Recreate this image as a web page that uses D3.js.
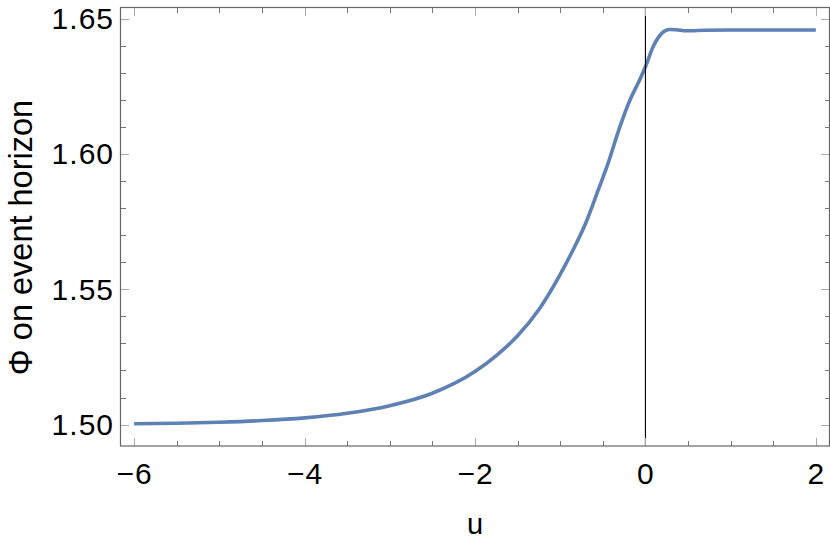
<!DOCTYPE html>
<html>
<head>
<meta charset="utf-8">
<script src="https://cdn.jsdelivr.net/npm/d3@7"></script>
<style>
html,body{margin:0;padding:0;background:#fff;}
svg{display:block;}
text{font-family:"Liberation Sans",Arial,sans-serif;fill:#000;}
</style>
</head>
<body>
<svg id="chart" width="830" height="542"></svg>
<script>
// ---- data ----
const uValues = [-6, -5.5, -5, -4.5, -4, -3.5, -3, -2.5, -2, -1.75, -1.5, -1.25, -1, -0.85, -0.7, -0.55, -0.45, -0.3, -0.18, -0.07, 0, 0.09, 0.2, 0.28, 0.36, 0.48, 0.7, 1, 1.5, 2];
const phiValues = [1.5003, 1.5005, 1.5009, 1.5015, 1.5025, 1.5042, 1.5070, 1.5116, 1.5196, 1.5255, 1.5328, 1.5425, 1.5555, 1.5645, 1.5745, 1.5870, 1.5955, 1.6100, 1.6200, 1.6272, 1.6322, 1.6396, 1.6448, 1.6460, 1.6459, 1.6455, 1.6457, 1.6458, 1.6458, 1.6458];
const xMajorTicks = [-6, -4, -2, 0, 2];
const xMajorLabels = ["\u22126", "\u22124", "\u22122", "0", "2"];
const yMajorTicks = [1.50, 1.55, 1.60, 1.65];
const yMajorLabels = ["1.50", "1.55", "1.60", "1.65"];
const xLabel = "u";
const yLabel = "\u03A6 on event horizon";

// ---- layout ----
const L = 120.5, R = 829.5, T = 7.5, B = 446;
const svg = d3.select("#chart");
const x = d3.scaleLinear().domain([-6.16, 2.16]).range([L, R]);
const y = d3.scaleLinear().domain([1.4921, 1.6541]).range([B, T]);

const xMinor = d3.range(-6, 2.001, 0.5).filter(v => !xMajorTicks.some(m => Math.abs(m - v) < 1e-6));
const yMinor = d3.range(1.50, 1.6501, 0.01).filter(v => !yMajorTicks.some(m => Math.abs(m - v) < 1e-6));

const data = uValues.map((u, i) => ({u, p: phiValues[i]}));

// curve
svg.append("path")
  .datum(data)
  .attr("fill", "none")
  .attr("stroke", "#5E81B5")
  .attr("stroke-width", 3.6)
  .attr("stroke-linejoin", "round")
  .attr("d", d3.line().x(d => x(d.u)).y(d => y(d.p)).curve(d3.curveMonotoneX));

// vertical axis line at u = 0
svg.append("line")
  .attr("x1", x(0)).attr("x2", x(0))
  .attr("y1", T).attr("y2", B)
  .attr("stroke", "#000").attr("stroke-width", 1.1);

// ticks
const tk = svg.append("g").attr("shape-rendering", "crispEdges");
function tickSet(vals, len, color, axis) {
  vals.forEach(v => {
    if (axis === "x") {
      const px = Math.round(x(v)) + 0.5;
      tk.append("line").attr("x1", px).attr("x2", px).attr("y1", B).attr("y2", B - len).attr("stroke", color);
      tk.append("line").attr("x1", px).attr("x2", px).attr("y1", T).attr("y2", T + len).attr("stroke", color);
    } else {
      const py = Math.round(y(v)) + 0.5;
      tk.append("line").attr("x1", L).attr("x2", L + len).attr("y1", py).attr("y2", py).attr("stroke", color);
      tk.append("line").attr("x1", R).attr("x2", R - len).attr("y1", py).attr("y2", py).attr("stroke", color);
    }
  });
}
tickSet(xMajorTicks, 8.5, "#aaa", "x");
tickSet(xMinor, 5, "#777", "x");
tickSet(yMajorTicks, 8.5, "#aaa", "y");
tickSet(yMinor, 5, "#777", "y");

// frame
svg.append("rect")
  .attr("x", L).attr("y", T).attr("width", R - L).attr("height", B - T)
  .attr("fill", "none").attr("stroke", "#666").attr("stroke-width", 1.2);

// tick labels
const fs = 30;
svg.append("g").selectAll("text").data(xMajorTicks).join("text")
  .attr("x", d => x(d) + 0.5).attr("y", 483.5)
  .attr("text-anchor", "middle").attr("font-size", fs).attr("letter-spacing", 1)
  .text((d, i) => xMajorLabels[i]);
svg.append("g").selectAll("text").data(yMajorTicks).join("text")
  .attr("x", 114).attr("y", d => y(d) + 10.3)
  .attr("text-anchor", "end").attr("font-size", fs).attr("letter-spacing", 1)
  .text((d, i) => yMajorLabels[i]);

// axis labels
svg.append("text").attr("x", (L + R) / 2).attr("y", 533.5)
  .attr("text-anchor", "middle").attr("font-size", 29).text(xLabel);
svg.append("text")
  .attr("transform", `translate(32,237.5) rotate(-90)`)
  .attr("text-anchor", "middle").attr("font-size", 32.5).text(yLabel);
</script>
</body>
</html>
